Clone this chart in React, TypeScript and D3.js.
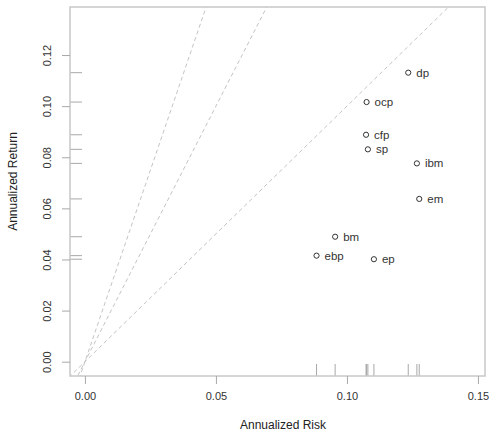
import React, { useEffect, useRef } from 'react';
import * as d3 from 'd3';

const assets = ['dp', 'ocp', 'cfp', 'sp', 'ibm', 'em', 'bm', 'ebp', 'ep'];
const risk = [0.1234, 0.1075, 0.1073, 0.108, 0.1267, 0.1276, 0.0955, 0.0884, 0.1103];
const ret = [0.1131, 0.1016, 0.0888, 0.0831, 0.0776, 0.0637, 0.0489, 0.0415, 0.0401];
const xTicks = [0, 0.05, 0.1, 0.15];
const yTicks = [0, 0.02, 0.04, 0.06, 0.08, 0.1, 0.12];
const sharpeSlopes = [1, 2, 3];

const W = 489;
const H = 442;

function App() {
  const ref = useRef<SVGSVGElement>(null);

  useEffect(() => {
    const svg = d3.select(ref.current);
    svg.selectAll('*').remove();

    const left = 70, right = 485, top = 7, bottom = 376;
    const font = 'Liberation Sans, Arial, sans-serif';

    const x = d3.scaleLinear().domain([-0.0057, 0.1527]).range([left, right]);
    const y = d3.scaleLinear().domain([-0.0056, 0.1388]).range([bottom, top]);

    svg.append('defs').append('clipPath').attr('id', 'plotclip')
      .append('rect')
      .attr('x', left).attr('y', top)
      .attr('width', right - left).attr('height', bottom - top);

    // dashed lines through the origin
    const plot = svg.append('g').attr('clip-path', 'url(#plotclip)');
    plot.selectAll('line.sharpe')
      .data(sharpeSlopes)
      .enter()
      .append('line')
        .attr('x1', x(-0.01))
        .attr('y1', (s) => y(-0.01 * s))
        .attr('x2', x(0.2))
        .attr('y2', (s) => y(0.2 * s))
        .attr('stroke', '#c4c4c4')
        .attr('stroke-width', 1)
        .attr('stroke-dasharray', '4,3');

    // rugs
    plot.selectAll('line.rugx')
      .data(risk)
      .enter()
      .append('line')
        .attr('x1', (d) => x(d)).attr('x2', (d) => x(d))
        .attr('y1', bottom).attr('y2', bottom - 12)
        .attr('stroke', '#a8a8a8');
    plot.selectAll('line.rugy')
      .data(ret)
      .enter()
      .append('line')
        .attr('y1', (d) => y(d)).attr('y2', (d) => y(d))
        .attr('x1', left).attr('x2', left + 12)
        .attr('stroke', '#a8a8a8');

    // box
    svg.append('rect')
      .attr('x', left).attr('y', top)
      .attr('width', right - left).attr('height', bottom - top)
      .attr('fill', 'none')
      .attr('stroke', '#c8c8c8')
      .attr('stroke-width', 1.5);

    // X axis
    const xAxis = svg.append('g')
      .attr('transform', `translate(0, ${bottom})`)
      .call(d3.axisBottom(x).tickValues(xTicks).tickFormat(d3.format('.2f')).tickSize(8).tickPadding(8));
    xAxis.select('.domain').remove();

    // Y axis, labels rotated like base R
    const yAxis = svg.append('g')
      .attr('transform', `translate(${left}, 0)`)
      .call(d3.axisLeft(y).tickValues(yTicks).tickFormat(d3.format('.2f')).tickSize(8));
    yAxis.select('.domain').remove();
    yAxis.selectAll('.tick text')
      .attr('x', 0)
      .attr('y', 0)
      .attr('dy', '0.35em')
      .attr('text-anchor', 'middle')
      .attr('transform', 'translate(-23, 0) rotate(-90)');

    [xAxis, yAxis].forEach((g) => {
      g.selectAll('line').attr('stroke', '#a8a8a8');
      g.selectAll('text')
        .attr('fill', '#333')
        .style('font-family', font)
        .style('font-size', '11px');
    });

    // points
    svg.selectAll('circle.pt')
      .data(assets)
      .enter()
      .append('circle')
        .attr('cx', (d, i) => x(risk[i]))
        .attr('cy', (d, i) => y(ret[i]))
        .attr('r', 2.6)
        .attr('fill', 'none')
        .attr('stroke', '#333')
        .attr('stroke-width', 1);

    svg.selectAll('text.lbl')
      .data(assets)
      .enter()
      .append('text')
        .attr('x', (d, i) => x(risk[i]) + 8)
        .attr('y', (d, i) => y(ret[i]))
        .attr('dy', '0.35em')
        .attr('fill', '#333')
        .style('font-family', font)
        .style('font-size', '11.5px')
        .text((d) => d);

    // axis titles
    svg.append('text')
      .attr('x', 283)
      .attr('y', 429)
      .attr('text-anchor', 'middle')
      .attr('fill', '#222')
      .style('font-family', font)
      .style('font-size', '12px')
      .text('Annualized Risk');

    svg.append('text')
      .attr('transform', `translate(17, ${(top + bottom) / 2 - 10}) rotate(-90)`)
      .attr('text-anchor', 'middle')
      .attr('fill', '#222')
      .style('font-family', font)
      .style('font-size', '12px')
      .text('Annualized Return');
  }, []);

  return (
    <svg ref={ref} width={W} height={H}
      style={{ position: 'absolute', left: 0, top: 0, background: '#fff' }} />
  );
}

export default App;
